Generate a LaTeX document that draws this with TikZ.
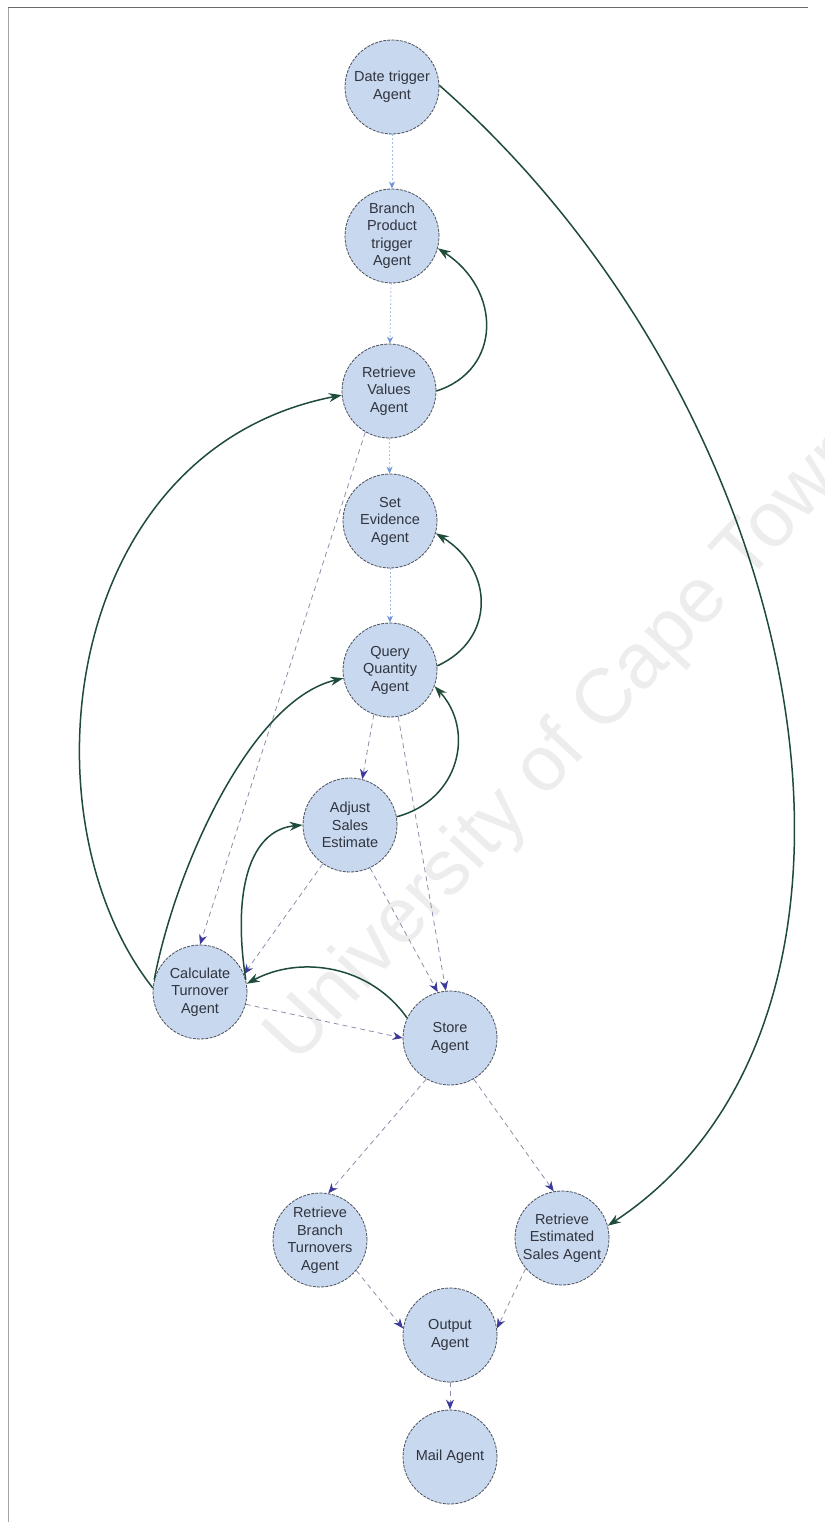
\documentclass[tikz,border=0pt]{standalone}
\usepackage{fontspec}
\setmainfont{Liberation Sans}
\usetikzlibrary{arrows.meta}

\definecolor{nodefill}{HTML}{C8D8EE}
\definecolor{nodeline}{HTML}{4A4F5A}
\definecolor{agenttext}{HTML}{30343F}
\definecolor{seqblue}{HTML}{9DBBE6}
\definecolor{seqtip}{HTML}{6F93D6}
\definecolor{dashgray}{HTML}{8A90AA}
\definecolor{tipblue}{HTML}{3C3A9C}
\definecolor{ctrlgreen}{HTML}{1F4B3A}
\definecolor{framegray}{HTML}{6A6A6A}

\begin{document}
\begin{tikzpicture}[x=1pt,y=-1pt,
  agent/.style={circle, draw=nodeline, fill=nodefill, line width=0.8pt,
    dash pattern=on 3pt off 1.2pt, minimum size=94pt, inner sep=0pt,
    align=center, text=agenttext, font=\fontsize{14.5}{17.5}\selectfont},
  seqflow/.style={draw=seqblue, line width=0.9pt, dash pattern=on 1.5pt off 2.5pt,
    -{Stealth[length=7pt,width=6pt,color=seqtip]}},
  dataflow/.style={draw=dashgray, line width=0.8pt, dash pattern=on 5pt off 4pt,
    -{Stealth[length=10pt,width=8pt,color=tipblue]}},
  ctrlflow/.style={draw=ctrlgreen, line width=1.5pt,
    -{Stealth[length=13pt,width=9pt]}}]

\useasboundingbox (0,0) rectangle (824,1522);
\fill[white] (0,0) rectangle (824,1522);

% frame lines
\draw[framegray, line width=1pt] (8,8) -- (808,8);
\draw[framegray!60, line width=0.7pt] (8,8) -- (8,1522);

% watermark
\begin{scope}
\clip (0,0) rectangle (824,1522);
\node[rotate=47, anchor=base west, inner sep=0pt, text=black!7,
  font=\fontsize{78}{78}\selectfont] (wm) at (296,1066) {University of Cape Town};
\end{scope}

% agents
\node[agent] (date)  at (392,87)   {Date trigger\\Agent};
\node[agent] (bp)    at (392,236)  {Branch\\Product\\trigger\\Agent};
\node[agent] (rv)    at (389,391)  {Retrieve\\Values\\Agent};
\node[agent] (se)    at (390,521)  {Set\\Evidence\\Agent};
\node[agent] (qq)    at (390,670)  {Query\\Quantity\\Agent};
\node[agent] (adj)   at (350,825)  {Adjust\\Sales\\Estimate};
\node[agent] (calc)  at (200,992)  {Calculate\\Turnover\\Agent};
\node[agent] (store) at (450,1038) {Store\\Agent};
\node[agent] (rbt)   at (320,1240) {Retrieve\\Branch\\Turnovers\\Agent};
\node[agent] (res)   at (562,1238) {Retrieve\\Estimated\\Sales Agent};
\node[agent] (out)   at (450,1335) {Output\\Agent};
\node[agent] (mail)  at (450,1457) {Mail Agent};

% sequence chain
\draw[seqflow] (date) -- (bp);
\draw[seqflow] (bp) -- (rv);
\draw[seqflow] (rv) -- (se);
\draw[seqflow] (se) -- (qq);

% data flows
\draw[dataflow] (qq.250) -- (adj.75);
\draw[dataflow] (qq.280) -- (store.95);
\draw[dataflow] (rv.240) -- (calc.90);
\draw[dataflow] (adj.295) -- (store.105);
\draw[dataflow] (adj.235) -- (calc.22);
\draw[dataflow] (calc.-15) -- (store.180);
\draw[dataflow] (store.240) -- (rbt.80);
\draw[dataflow] (store.300) -- (res.100);
\draw[dataflow] (rbt.-40) -- (out.172);
\draw[dataflow] (res.-140) -- (out.8);
\draw[dataflow] (out) -- (mail);

% control feedback
\draw[ctrlflow] (date.2) .. controls (820,420) and (920,1020) .. (res.15);
\draw[ctrlflow] (rv.0) .. controls (502,370) and (502,290) .. (bp.-15);
\draw[ctrlflow] (qq.5) .. controls (495,640) and (495,570) .. (se.-15);
\draw[ctrlflow] (adj.10) .. controls (460,800) and (475,730) .. (qq.-20);
\draw[ctrlflow] (calc.175) .. controls (20,820) and (60,450) .. (rv.185);
\draw[ctrlflow] (calc.165) .. controls (175,870) and (250,700) .. (qq.190);
\draw[ctrlflow] (calc.15) .. controls (232,890) and (250,830) .. (adj.180);
\draw[ctrlflow] (store.155) .. controls (370,965) and (300,955) .. (calc.10);

\end{tikzpicture}
\end{document}
